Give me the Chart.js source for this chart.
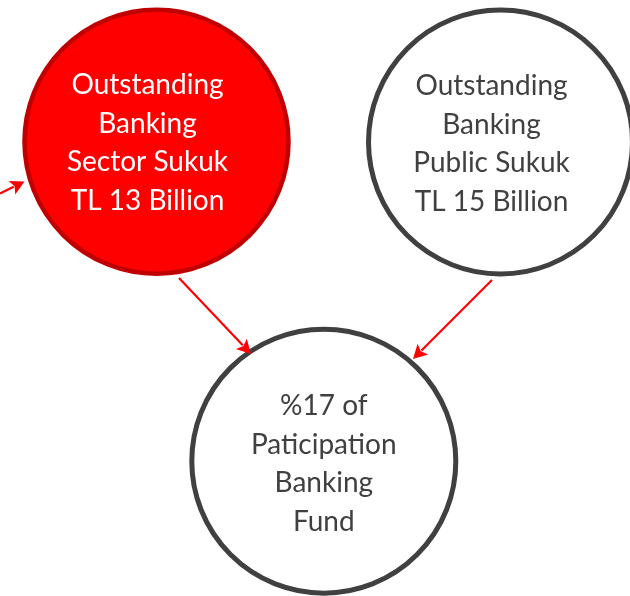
<!DOCTYPE html>
<html>
<head>
<meta charset="utf-8">
<script src="https://cdn.jsdelivr.net/npm/chart.js@4.4.1/dist/chart.umd.min.js"></script>
<style>
html,body{margin:0;padding:0;background:#fff;overflow:hidden}
#c{display:block}
</style>
</head>
<body>
<canvas id="c" width="630" height="596"></canvas>
<script>
// Node data (diagram coordinates on a 630 x 596 plane)
const nodeLabels = [
  ["Outstanding","Banking","Sector Sukuk","TL 13 Billion"],
  ["Outstanding","Banking","Public Sukuk","TL 15 Billion"],
  ["%17 of","Paticipation","Banking","Fund"]
];
const nodeValues = [13, 15, 17];
const nodeX = [156.5, 500.5, 323.8];
const nodeY = [141.7, 142, 461.2];
// Arrows: start -> tip
const arrowFromX = [0, 179, 492];
const arrowFromY = [193.5, 278, 280];
const arrowToX = [24.5, 251, 413];
const arrowToY = [181.5, 354, 359];

const fills = ['#ff0000', '#ffffff', '#ffffff'];
const borders = ['#c00000', '#404040', '#404040'];
const textColors = ['#ffffff', '#404040', '#404040'];
const textOffsetX = [-9, -9, 0];
const textTopY = [85, 86, 406];

const arrowPlugin = {
  id: 'arrows',
  afterDatasetsDraw(chart) {
    const {ctx, scales: {x, y}} = chart;
    ctx.save();
    for (let i = 0; i < arrowFromX.length; i++) {
      const x1 = x.getPixelForValue(arrowFromX[i]);
      const y1 = y.getPixelForValue(arrowFromY[i]);
      const x2 = x.getPixelForValue(arrowToX[i]);
      const y2 = y.getPixelForValue(arrowToY[i]);
      const ang = Math.atan2(y2 - y1, x2 - x1);
      const hl = 14, hw = 7.5;
      const bx = x2 - hl * Math.cos(ang), by = y2 - hl * Math.sin(ang);
      ctx.strokeStyle = '#ff0000';
      ctx.lineWidth = 2.2;
      ctx.beginPath();
      ctx.moveTo(x1, y1);
      ctx.lineTo(bx + 2 * Math.cos(ang), by + 2 * Math.sin(ang));
      ctx.stroke();
      ctx.fillStyle = '#ff0000';
      ctx.beginPath();
      ctx.moveTo(x2, y2);
      ctx.lineTo(bx + hw * Math.sin(ang), by - hw * Math.cos(ang));
      ctx.lineTo(bx + 3 * Math.cos(ang), by + 3 * Math.sin(ang));
      ctx.lineTo(bx - hw * Math.sin(ang), by + hw * Math.cos(ang));
      ctx.closePath();
      ctx.fill();
    }
    // labels
    ctx.font = '28px Lato, "Open Sans", sans-serif';
    ctx.textAlign = 'center';
    ctx.textBaseline = 'middle';
    for (let i = 0; i < nodeLabels.length; i++) {
      ctx.fillStyle = textColors[i];
      const cx = x.getPixelForValue(nodeX[i] + textOffsetX[i]);
      const ty = y.getPixelForValue(textTopY[i]);
      nodeLabels[i].forEach((line, j) => ctx.fillText(line, cx, ty + j * 38.6));
    }
    ctx.restore();
  }
};

new Chart(document.getElementById('c'), {
  type: 'bubble',
  data: {
    datasets: [{
      data: nodeValues.map((v, i) => ({x: nodeX[i], y: nodeY[i], r: 132, v})),
      backgroundColor: fills,
      borderColor: borders,
      borderWidth: [4.5, 5, 5],
      hoverRadius: 0,
      clip: false
    }]
  },
  options: {
    responsive: false,
    animation: false,
    events: [],
    layout: {padding: 0, autoPadding: false},
    plugins: {legend: {display: false}, tooltip: {enabled: false}},
    scales: {
      x: {type: 'linear', min: 0, max: 630, display: false},
      y: {type: 'linear', min: 0, max: 596, reverse: true, display: false}
    }
  },
  plugins: [arrowPlugin]
});
</script>
</body>
</html>
